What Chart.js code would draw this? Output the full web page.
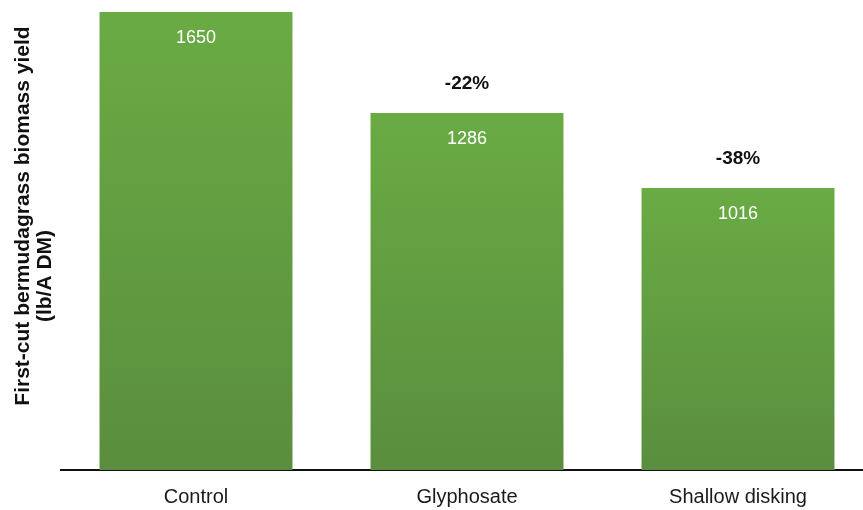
<!DOCTYPE html>
<html>
<head>
<meta charset="utf-8">
<script src="https://cdn.jsdelivr.net/npm/chart.js@4.4.1/dist/chart.umd.min.js"></script>
<style>
  html, body { margin: 0; padding: 0; background: #ffffff; overflow: hidden; }
  #wrap { position: relative; width: 880px; height: 526px; }
</style>
</head>
<body>
<div id="wrap"><canvas id="chart"></canvas></div>
<script>
// First-cut bermudagrass biomass yield by weed-control treatment
const categories = ['Control', 'Glyphosate', 'Shallow disking'];
const yieldValues = [1650, 1286, 1016];
const changeLabels = ['', '-22%', '-38%'];
const axisTitleLines = ['First-cut bermudagrass biomass yield', '(lb/A DM)'];

const FONT = '"Liberation Sans", Arial, Helvetica, sans-serif';

// Vertical gradient for each bar: lighter green at its top, darker at the base
function barGradient(ctx) {
  const chart = ctx.chart;
  const area = chart.chartArea;
  if (!area || ctx.type !== 'data') return '#64a043';
  const yScale = chart.scales.y;
  const top = yScale.getPixelForValue(ctx.raw);
  const g = chart.ctx.createLinearGradient(0, top, 0, area.bottom);
  g.addColorStop(0, '#6aab44');
  g.addColorStop(1, '#5a8e3e');
  return g;
}

// Value labels inside bars, percentage change above them, and the rotated y title
const annotate = {
  id: 'annotate',
  afterDatasetsDraw(chart) {
    const c = chart.ctx;
    const meta = chart.getDatasetMeta(0);
    c.save();
    c.textAlign = 'center';
    c.textBaseline = 'middle';
    meta.data.forEach((bar, i) => {
      c.font = '18px ' + FONT;
      c.fillStyle = '#ffffff';
      c.fillText(String(yieldValues[i]), bar.x, bar.y + 26);
      if (changeLabels[i]) {
        c.font = 'bold 19px ' + FONT;
        c.fillStyle = '#111111';
        c.fillText(changeLabels[i], bar.x, bar.y - 29);
      }
    });
    c.restore();
  },
  afterDraw(chart) {
    const c = chart.ctx;
    const lines = [
      { text: axisTitleLines[0], x: 23, y: 216 },
      { text: axisTitleLines[1], x: 45, y: 276 }
    ];
    lines.forEach(l => {
      c.save();
      c.fillStyle = '#111111';
      c.font = 'bold 21px ' + FONT;
      c.textAlign = 'center';
      c.textBaseline = 'middle';
      c.translate(l.x, l.y);
      c.rotate(-Math.PI / 2);
      c.fillText(l.text, 0, 0);
      c.restore();
    });
  }
};

new Chart(document.getElementById('chart'), {
  type: 'bar',
  data: {
    labels: categories,
    datasets: [{
      data: yieldValues,
      backgroundColor: barGradient,
      borderWidth: 0,
      categoryPercentage: 1,
      barPercentage: 0.712
    }]
  },
  options: {
    responsive: true,
    maintainAspectRatio: false,
    animation: false,
    devicePixelRatio: 1,
    layout: { padding: { left: 60.5, right: 6.5, top: 12, bottom: 2 } },
    plugins: { legend: { display: false }, tooltip: { enabled: false } },
    scales: {
      x: {
        grid: { display: false, drawTicks: false },
        border: { display: true, color: '#111111', width: 2 },
        ticks: {
          padding: 15,
          color: '#1a1a1a',
          font: { family: FONT, size: 20 }
        }
      },
      y: {
        display: false,
        min: 0,
        max: 1650
      }
    }
  },
  plugins: [annotate]
});
</script>
</body>
</html>
